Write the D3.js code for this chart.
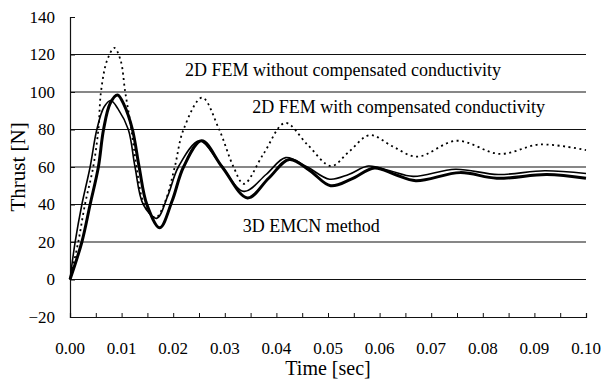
<!DOCTYPE html>
<html>
<head>
<meta charset="utf-8">
<script src="https://cdn.jsdelivr.net/npm/d3@7"></script>
<style>
  body { margin: 0; background: #fff; }
  svg text { font-family: 'Liberation Serif', 'Times New Roman', serif; fill: #000; }
</style>
</head>
<body>
<div id="chart"></div>
<script>
const w = 611;
const h = 383;
const margin = { top: 17, right: 25, bottom: 66, left: 70 };
const serif = "'Liberation Serif', 'Times New Roman', serif";

// 2D FEM without compensated conductivity (dotted)
const tNoComp = [0, 0.0016, 0.0029, 0.0045, 0.0055, 0.006, 0.0072, 0.0086, 0.0098, 0.0107, 0.0119, 0.0129, 0.0144, 0.0166,
  0.0185, 0.0203, 0.022, 0.0256, 0.0289, 0.0317, 0.0337, 0.0375, 0.0417, 0.046, 0.0506, 0.054, 0.0581, 0.0625, 0.0673,
  0.0749, 0.0833, 0.0911, 0.1];
const vNoComp = [0, 20, 40, 60, 80, 100, 117, 123.5, 117, 100, 80, 60, 40, 33,
  42, 60, 80, 97, 80, 60, 51, 67, 83.5, 72, 60.5, 68, 77, 71, 65.5,
  74, 67, 72, 69];

// 2D FEM with compensated conductivity (thin)
const tComp = [0, 0.001, 0.0023, 0.0039, 0.0052, 0.0066, 0.0079, 0.0093, 0.0113, 0.0126, 0.0142, 0.0168,
  0.019, 0.021, 0.0251, 0.029, 0.0337, 0.038, 0.0418, 0.046, 0.0503, 0.054, 0.0578, 0.062, 0.0665,
  0.0747, 0.083, 0.092, 0.1];
const vComp = [0, 20, 40, 60, 80, 92, 95.5, 91, 80, 60, 40, 32.6,
  45, 60, 74, 62, 47, 56, 65, 60, 53.5, 56, 60.5, 58, 55,
  58.8, 56, 58, 56.5];

// 3D EMCN method (thick)
const tEmcn = [0, 0.0023, 0.0039, 0.0055, 0.0065, 0.0078, 0.0092, 0.0105, 0.0121, 0.0134, 0.0149, 0.0174,
  0.0198, 0.022, 0.0255, 0.0295, 0.0344, 0.0385, 0.0425, 0.0465, 0.0505, 0.0545, 0.059, 0.063, 0.067,
  0.0756, 0.0827, 0.0924, 0.1];
const vEmcn = [0, 20, 40, 60, 80, 94, 98.4, 93, 80, 60, 40, 27.6,
  42, 60, 74, 60, 43.5, 54, 64, 58, 50, 53.5, 59.5, 56, 52.7,
  57, 54, 56, 54];

const yTicks = [-20, 0, 20, 40, 60, 80, 100, 120, 140];
const xTicks = [0, 0.01, 0.02, 0.03, 0.04, 0.05, 0.06, 0.07, 0.08, 0.09, 0.1];
const xMinorTicks = d3.range(0, 0.1001, 0.005);

const labels = ['2D FEM without compensated conductivity', '2D FEM with compensated conductivity', '3D EMCN method'];
const labelT = [0.0223, 0.0353, 0.0335];
const labelV = [108.5, 89, 25.5];

const xScale = d3.scaleLinear().domain([0, 0.1]).range([margin.left, w - margin.right]);
const yScale = d3.scaleLinear().domain([-20, 140]).range([h - margin.bottom, margin.top]);

const svg = d3.select('#chart').append('svg')
  .attr('width', w)
  .attr('height', h)
  .attr('font-family', serif);

// gridlines
svg.append('g')
  .selectAll('line')
  .data(yTicks.filter((d) => d > -20 && d < 140))
  .enter()
  .append('line')
  .attr('x1', xScale(0))
  .attr('x2', xScale(0.1))
  .attr('y1', (d) => yScale(d))
  .attr('y2', (d) => yScale(d))
  .attr('stroke', '#111')
  .attr('stroke-width', 1.2);

// y axis
const yAxis = d3.axisLeft(yScale).tickValues(yTicks).tickSize(-5).tickPadding(15).tickFormat(d3.format('d'));
const gy = svg.append('g')
  .attr('transform', `translate(${margin.left},0)`)
  .call(yAxis)
  .attr('font-family', serif);
gy.select('.domain').attr('stroke', '#111').attr('stroke-width', 1.2);
gy.selectAll('.tick line').attr('stroke', '#111');
gy.selectAll('.tick text').style('font-size', '17px').attr('fill', '#000');

// x axis
const xAxis = d3.axisBottom(xScale).tickValues(xMinorTicks).tickSize(-4).tickFormat('');
const gx = svg.append('g')
  .attr('transform', `translate(0,${yScale(-20)})`)
  .call(xAxis);
gx.select('.domain').attr('stroke', '#111').attr('stroke-width', 1.2);
gx.selectAll('.tick line').attr('stroke', '#111');

svg.append('g')
  .selectAll('text')
  .data(xTicks)
  .enter()
  .append('text')
  .attr('x', (d) => xScale(d))
  .attr('y', yScale(-20) + 37)
  .attr('text-anchor', 'middle')
  .style('font-size', '17px')
  .text((d) => d.toFixed(2));

// axis titles
svg.append('text')
  .attr('x', (xScale(0) + xScale(0.1)) / 2)
  .attr('y', 375)
  .attr('text-anchor', 'middle')
  .style('font-size', '20px')
  .text('Time [sec]');

svg.append('text')
  .attr('transform', `translate(25,${(yScale(-20) + yScale(140)) / 2}) rotate(-90)`)
  .attr('text-anchor', 'middle')
  .style('font-size', '21px')
  .text('Thrust [N]');

// curves
const line = d3.line()
  .x((d) => xScale(d[0]))
  .y((d) => yScale(d[1]))
  .curve(d3.curveCatmullRom.alpha(0.5));

svg.append('path')
  .datum(d3.zip(tNoComp, vNoComp))
  .attr('d', line)
  .attr('fill', 'none')
  .attr('stroke', '#000')
  .attr('stroke-width', 1.8)
  .attr('stroke-dasharray', '2,3.5');

svg.append('path')
  .datum(d3.zip(tComp, vComp))
  .attr('d', line)
  .attr('fill', 'none')
  .attr('stroke', '#000')
  .attr('stroke-width', 1.6);

svg.append('path')
  .datum(d3.zip(tEmcn, vEmcn))
  .attr('d', line)
  .attr('fill', 'none')
  .attr('stroke', '#000')
  .attr('stroke-width', 3);

// annotations
svg.append('g')
  .selectAll('text')
  .data(labels)
  .enter()
  .append('text')
  .attr('x', (d, i) => xScale(labelT[i]))
  .attr('y', (d, i) => yScale(labelV[i]))
  .style('font-size', '18px')
  .text((d) => d);
</script>
</body>
</html>
